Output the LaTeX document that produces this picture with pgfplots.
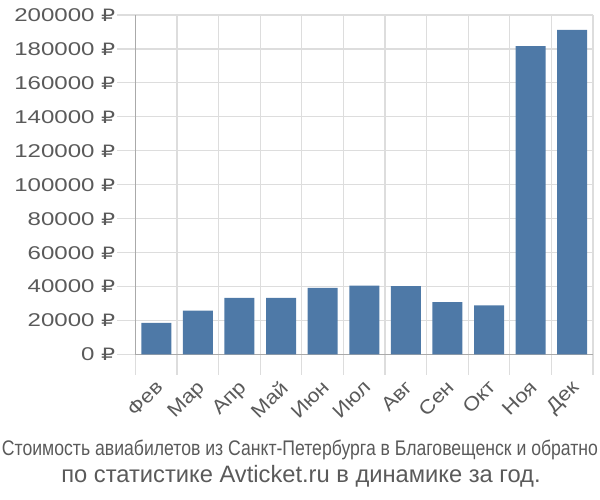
\documentclass[border=0pt]{standalone}
\usepackage{fontspec}
\setmainfont{Liberation Sans}
\newfontfamily\rub{DejaVu Sans}
\usepackage{pgfplots}
\pgfplotsset{compat=1.18}
\definecolor{barc}{RGB}{78,121,167}
\definecolor{txt}{RGB}{90,90,90}
\definecolor{grd}{RGB}{221,221,221}
\definecolor{axl}{RGB}{170,170,170}
\newcommand{\R}[1]{\scalebox{1.3}[1]{#1 {\rub\fontsize{17}{20}\selectfont ₽}}}
\newcommand{\M}[1]{\scalebox{1.12}[1]{#1}}
\begin{document}
\begin{tikzpicture}[x=1pt,y=1pt]
\useasboundingbox (0,0) rectangle (600,500);
\begin{axis}[at={(135.5pt,145.5pt)}, anchor=south west,
  width=457.5pt, height=339.5pt, scale only axis,
  xmin=-0.5, xmax=10.5, ymin=0, ymax=200000,
  xtick={0,...,10},
  xticklabels={\M{Фев},\M{Мар},\M{Апр},\M{Май},\M{Июн},\M{Июл},\M{Авг},\M{Сен},\M{Окт},\M{Ноя},\M{Дек}},
  minor xtick={-0.5,0.5,...,10.5},
  ytick={0,20000,...,200000},
  yticklabels={\R{0},\R{20000},\R{40000},\R{60000},\R{80000},\R{100000},\R{120000},\R{140000},\R{160000},\R{180000},\R{200000}},
  xminorgrids=true, ymajorgrids=true,
  grid style={grd, line width=1.2pt},
  minor grid style={grd, line width=1.2pt},
  major x tick style={draw=none},
  minor x tick style={grd, line width=1.2pt},
  y tick style={grd, line width=1.2pt},
  tick align=outside,
  major tick length=18pt, minor tick length=20pt,
  axis x line*=bottom, axis y line*=left,
  axis line style={axl, line width=1.5pt},
  scaled y ticks=false,
  yticklabel style={font=\fontsize{18.5}{20}\selectfont, text=txt, inner sep=2pt},
  xticklabel style={font=\fontsize{19.5}{20}\selectfont, text=txt, rotate=45, anchor=north east, inner sep=1pt, xshift=-5pt, yshift=-2pt},
  ybar, bar width=30pt,
]
\addplot[fill=barc, draw=none] coordinates {
(0,18700) (1,25800) (2,33300) (3,33300) (4,39200) (5,40500) (6,40300) (7,30900) (8,29000) (9,181700) (10,191300)};
\end{axis}
\node[anchor=base, text=txt, inner sep=0pt] at (300,44) {\resizebox{596pt}{15.5pt}{\fontsize{21}{24}\selectfont Стоимость авиабилетов из Санкт-Петербурга в Благовещенск и обратно}};
\node[anchor=base, text=txt, font=\fontsize{23.7}{26}\selectfont] at (301,17) {по статистике Avticket.ru в динамике за год.};
\end{tikzpicture}
\end{document}
